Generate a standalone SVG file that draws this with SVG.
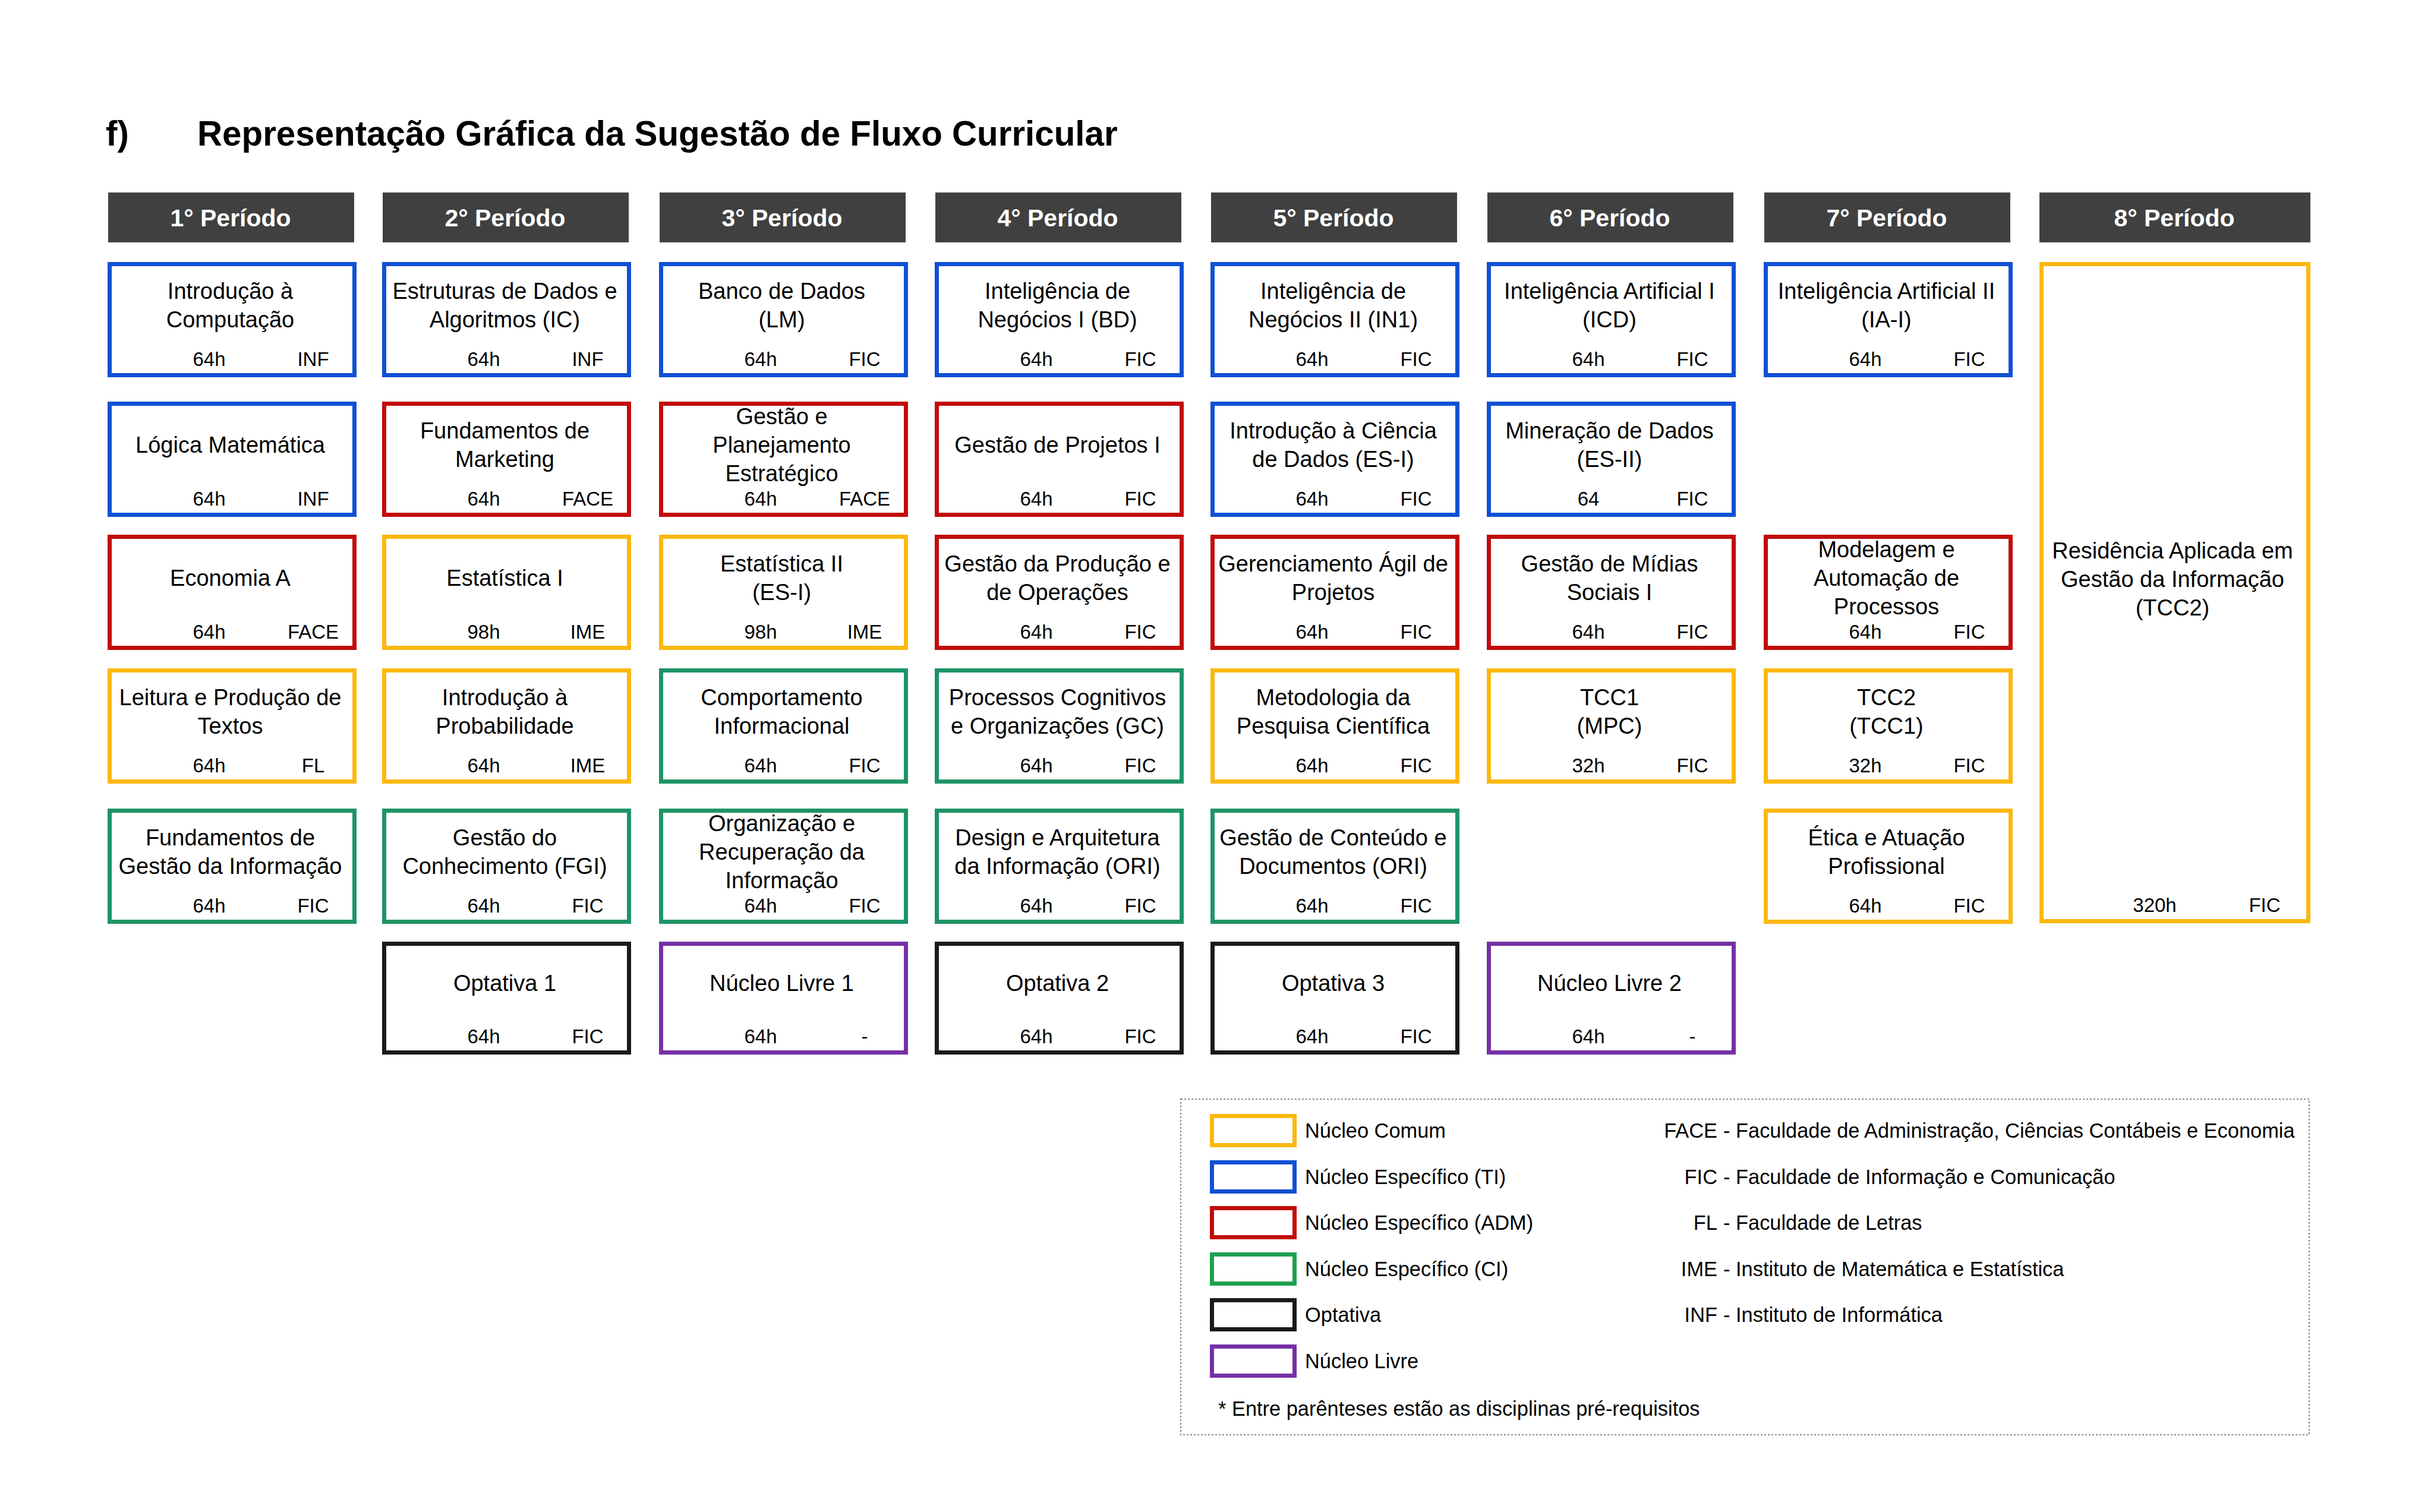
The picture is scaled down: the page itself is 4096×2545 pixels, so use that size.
<svg xmlns="http://www.w3.org/2000/svg" width="4096" height="2545" viewBox="0 0 4096 2545">
<style>
text{font-family:"Liberation Sans",Arial,sans-serif;fill:#000}
.title{font-size:58.3px;font-weight:bold}
.hdr rect{fill:#404040}
.hdr text{font-size:41px;font-weight:bold;fill:#fff;text-anchor:middle}
.node rect{fill:#fff;stroke-width:7}
.node text{text-anchor:middle}
.nm{font-size:38px}
.hr{font-size:33px}
.Y rect{stroke:#FBB80F}
.B rect{stroke:#1050D4}
.R rect{stroke:#C20B0B}
.G rect{stroke:#1E9466}
.K rect{stroke:#1A1A1A}
.P rect{stroke:#7530A5}
.lg{font-size:34.4px}
.sw{fill:#fff;stroke-width:7}
</style>
<rect width="4096" height="2545" fill="#fff"/>
<text class="title" x="178" y="245">f)</text>
<text class="title" x="332" y="245">Representação Gráfica da Sugestão de Fluxo Curricular</text>

<g id="headers">
<g class="hdr" id="h1"><rect x="182" y="324" width="414" height="84"/><text x="388" y="381">1° Período</text></g>
<g class="hdr" id="h2"><rect x="644" y="324" width="414" height="84"/><text x="850" y="381">2° Período</text></g>
<g class="hdr" id="h3"><rect x="1110" y="324" width="414" height="84"/><text x="1316" y="381">3° Período</text></g>
<g class="hdr" id="h4"><rect x="1574" y="324" width="414" height="84"/><text x="1780" y="381">4° Período</text></g>
<g class="hdr" id="h5"><rect x="2038" y="324" width="414" height="84"/><text x="2244" y="381">5° Período</text></g>
<g class="hdr" id="h6"><rect x="2503" y="324" width="414" height="84"/><text x="2709" y="381">6° Período</text></g>
<g class="hdr" id="h7"><rect x="2969" y="324" width="414" height="84"/><text x="3175" y="381">7° Período</text></g>
<g class="hdr" id="h8"><rect x="3432" y="324" width="456" height="84"/><text x="3659" y="381">8° Período</text></g>
</g>

<!-- Column 1 -->
<g class="node B" id="c1r1"><rect x="184.5" y="444.5" width="412" height="187"/><text class="nm" x="387.5" y="503">Introdução à</text><text class="nm" x="387.5" y="551">Computação</text><text class="hr" x="352" y="616">64h</text><text class="hr" x="527" y="616">INF</text></g>
<g class="node B" id="c1r2"><rect x="184.5" y="679.5" width="412" height="187"/><text class="nm" x="387.5" y="762">Lógica Matemática</text><text class="hr" x="352" y="851">64h</text><text class="hr" x="527" y="851">INF</text></g>
<g class="node R" id="c1r3"><rect x="184.5" y="903.5" width="412" height="187"/><text class="nm" x="387.5" y="986">Economia A</text><text class="hr" x="352" y="1075">64h</text><text class="hr" x="527" y="1075">FACE</text></g>
<g class="node Y" id="c1r4"><rect x="184.5" y="1128.5" width="412" height="187"/><text class="nm" x="387.5" y="1187">Leitura e Produção de</text><text class="nm" x="387.5" y="1235">Textos</text><text class="hr" x="352" y="1300">64h</text><text class="hr" x="527" y="1300">FL</text></g>
<g class="node G" id="c1r5"><rect x="184.5" y="1364.5" width="412" height="187"/><text class="nm" x="387.5" y="1423">Fundamentos de</text><text class="nm" x="387.5" y="1471">Gestão da Informação</text><text class="hr" x="352" y="1536">64h</text><text class="hr" x="527" y="1536">FIC</text></g>

<!-- Column 2 -->
<g class="node B" id="c2r1"><rect x="646.5" y="444.5" width="412" height="187"/><text class="nm" x="849.5" y="503">Estruturas de Dados e</text><text class="nm" x="849.5" y="551">Algoritmos (IC)</text><text class="hr" x="814" y="616">64h</text><text class="hr" x="989" y="616">INF</text></g>
<g class="node R" id="c2r2"><rect x="646.5" y="679.5" width="412" height="187"/><text class="nm" x="849.5" y="738">Fundamentos de</text><text class="nm" x="849.5" y="786">Marketing</text><text class="hr" x="814" y="851">64h</text><text class="hr" x="989" y="851">FACE</text></g>
<g class="node Y" id="c2r3"><rect x="646.5" y="903.5" width="412" height="187"/><text class="nm" x="849.5" y="986">Estatística I</text><text class="hr" x="814" y="1075">98h</text><text class="hr" x="989" y="1075">IME</text></g>
<g class="node Y" id="c2r4"><rect x="646.5" y="1128.5" width="412" height="187"/><text class="nm" x="849.5" y="1187">Introdução à</text><text class="nm" x="849.5" y="1235">Probabilidade</text><text class="hr" x="814" y="1300">64h</text><text class="hr" x="989" y="1300">IME</text></g>
<g class="node G" id="c2r5"><rect x="646.5" y="1364.5" width="412" height="187"/><text class="nm" x="849.5" y="1423">Gestão do</text><text class="nm" x="849.5" y="1471">Conhecimento (FGI)</text><text class="hr" x="814" y="1536">64h</text><text class="hr" x="989" y="1536">FIC</text></g>
<g class="node K" id="c2r6"><rect x="646.5" y="1588.5" width="412" height="183"/><text class="nm" x="849.5" y="1668">Optativa 1</text><text class="hr" x="814" y="1756">64h</text><text class="hr" x="989" y="1756">FIC</text></g>

<!-- Column 3 -->
<g class="node B" id="c3r1"><rect x="1112.5" y="444.5" width="412" height="187"/><text class="nm" x="1315.5" y="503">Banco de Dados</text><text class="nm" x="1315.5" y="551">(LM)</text><text class="hr" x="1280" y="616">64h</text><text class="hr" x="1455" y="616">FIC</text></g>
<g class="node R" id="c3r2"><rect x="1112.5" y="679.5" width="412" height="187"/><text class="nm" x="1315.5" y="714">Gestão e</text><text class="nm" x="1315.5" y="762">Planejamento</text><text class="nm" x="1315.5" y="810">Estratégico</text><text class="hr" x="1280" y="851">64h</text><text class="hr" x="1455" y="851">FACE</text></g>
<g class="node Y" id="c3r3"><rect x="1112.5" y="903.5" width="412" height="187"/><text class="nm" x="1315.5" y="962">Estatística II</text><text class="nm" x="1315.5" y="1010">(ES-I)</text><text class="hr" x="1280" y="1075">98h</text><text class="hr" x="1455" y="1075">IME</text></g>
<g class="node G" id="c3r4"><rect x="1112.5" y="1128.5" width="412" height="187"/><text class="nm" x="1315.5" y="1187">Comportamento</text><text class="nm" x="1315.5" y="1235">Informacional</text><text class="hr" x="1280" y="1300">64h</text><text class="hr" x="1455" y="1300">FIC</text></g>
<g class="node G" id="c3r5"><rect x="1112.5" y="1364.5" width="412" height="187"/><text class="nm" x="1315.5" y="1399">Organização e</text><text class="nm" x="1315.5" y="1447">Recuperação da</text><text class="nm" x="1315.5" y="1495">Informação</text><text class="hr" x="1280" y="1536">64h</text><text class="hr" x="1455" y="1536">FIC</text></g>
<g class="node P" id="c3r6"><rect x="1112.5" y="1588.5" width="412" height="183"/><text class="nm" x="1315.5" y="1668">Núcleo Livre 1</text><text class="hr" x="1280" y="1756">64h</text><text class="hr" x="1455" y="1756">-</text></g>

<!-- Column 4 -->
<g class="node B" id="c4r1"><rect x="1576.5" y="444.5" width="412" height="187"/><text class="nm" x="1779.5" y="503">Inteligência de</text><text class="nm" x="1779.5" y="551">Negócios I (BD)</text><text class="hr" x="1744" y="616">64h</text><text class="hr" x="1919" y="616">FIC</text></g>
<g class="node R" id="c4r2"><rect x="1576.5" y="679.5" width="412" height="187"/><text class="nm" x="1779.5" y="762">Gestão de Projetos I</text><text class="hr" x="1744" y="851">64h</text><text class="hr" x="1919" y="851">FIC</text></g>
<g class="node R" id="c4r3"><rect x="1576.5" y="903.5" width="412" height="187"/><text class="nm" x="1779.5" y="962">Gestão da Produção e</text><text class="nm" x="1779.5" y="1010">de Operações</text><text class="hr" x="1744" y="1075">64h</text><text class="hr" x="1919" y="1075">FIC</text></g>
<g class="node G" id="c4r4"><rect x="1576.5" y="1128.5" width="412" height="187"/><text class="nm" x="1779.5" y="1187">Processos Cognitivos</text><text class="nm" x="1779.5" y="1235">e Organizações (GC)</text><text class="hr" x="1744" y="1300">64h</text><text class="hr" x="1919" y="1300">FIC</text></g>
<g class="node G" id="c4r5"><rect x="1576.5" y="1364.5" width="412" height="187"/><text class="nm" x="1779.5" y="1423">Design e Arquitetura</text><text class="nm" x="1779.5" y="1471">da Informação (ORI)</text><text class="hr" x="1744" y="1536">64h</text><text class="hr" x="1919" y="1536">FIC</text></g>
<g class="node K" id="c4r6"><rect x="1576.5" y="1588.5" width="412" height="183"/><text class="nm" x="1779.5" y="1668">Optativa 2</text><text class="hr" x="1744" y="1756">64h</text><text class="hr" x="1919" y="1756">FIC</text></g>

<!-- Column 5 -->
<g class="node B" id="c5r1"><rect x="2040.5" y="444.5" width="412" height="187"/><text class="nm" x="2243.5" y="503">Inteligência de</text><text class="nm" x="2243.5" y="551">Negócios II (IN1)</text><text class="hr" x="2208" y="616">64h</text><text class="hr" x="2383" y="616">FIC</text></g>
<g class="node B" id="c5r2"><rect x="2040.5" y="679.5" width="412" height="187"/><text class="nm" x="2243.5" y="738">Introdução à Ciência</text><text class="nm" x="2243.5" y="786">de Dados (ES-I)</text><text class="hr" x="2208" y="851">64h</text><text class="hr" x="2383" y="851">FIC</text></g>
<g class="node R" id="c5r3"><rect x="2040.5" y="903.5" width="412" height="187"/><text class="nm" x="2243.5" y="962">Gerenciamento Ágil de</text><text class="nm" x="2243.5" y="1010">Projetos</text><text class="hr" x="2208" y="1075">64h</text><text class="hr" x="2383" y="1075">FIC</text></g>
<g class="node Y" id="c5r4"><rect x="2040.5" y="1128.5" width="412" height="187"/><text class="nm" x="2243.5" y="1187">Metodologia da</text><text class="nm" x="2243.5" y="1235">Pesquisa Científica</text><text class="hr" x="2208" y="1300">64h</text><text class="hr" x="2383" y="1300">FIC</text></g>
<g class="node G" id="c5r5"><rect x="2040.5" y="1364.5" width="412" height="187"/><text class="nm" x="2243.5" y="1423">Gestão de Conteúdo e</text><text class="nm" x="2243.5" y="1471">Documentos (ORI)</text><text class="hr" x="2208" y="1536">64h</text><text class="hr" x="2383" y="1536">FIC</text></g>
<g class="node K" id="c5r6"><rect x="2040.5" y="1588.5" width="412" height="183"/><text class="nm" x="2243.5" y="1668">Optativa 3</text><text class="hr" x="2208" y="1756">64h</text><text class="hr" x="2383" y="1756">FIC</text></g>

<!-- Column 6 -->
<g class="node B" id="c6r1"><rect x="2505.5" y="444.5" width="412" height="187"/><text class="nm" x="2708.5" y="503">Inteligência Artificial I</text><text class="nm" x="2708.5" y="551">(ICD)</text><text class="hr" x="2673" y="616">64h</text><text class="hr" x="2848" y="616">FIC</text></g>
<g class="node B" id="c6r2"><rect x="2505.5" y="679.5" width="412" height="187"/><text class="nm" x="2708.5" y="738">Mineração de Dados</text><text class="nm" x="2708.5" y="786">(ES-II)</text><text class="hr" x="2673" y="851">64</text><text class="hr" x="2848" y="851">FIC</text></g>
<g class="node R" id="c6r3"><rect x="2505.5" y="903.5" width="412" height="187"/><text class="nm" x="2708.5" y="962">Gestão de Mídias</text><text class="nm" x="2708.5" y="1010">Sociais I</text><text class="hr" x="2673" y="1075">64h</text><text class="hr" x="2848" y="1075">FIC</text></g>
<g class="node Y" id="c6r4"><rect x="2505.5" y="1128.5" width="412" height="187"/><text class="nm" x="2708.5" y="1187">TCC1</text><text class="nm" x="2708.5" y="1235">(MPC)</text><text class="hr" x="2673" y="1300">32h</text><text class="hr" x="2848" y="1300">FIC</text></g>
<g class="node P" id="c6r6"><rect x="2505.5" y="1588.5" width="412" height="183"/><text class="nm" x="2708.5" y="1668">Núcleo Livre 2</text><text class="hr" x="2673" y="1756">64h</text><text class="hr" x="2848" y="1756">-</text></g>

<!-- Column 7 -->
<g class="node B" id="c7r1"><rect x="2971.5" y="444.5" width="412" height="187"/><text class="nm" x="3174.5" y="503">Inteligência Artificial II</text><text class="nm" x="3174.5" y="551">(IA-I)</text><text class="hr" x="3139" y="616">64h</text><text class="hr" x="3314" y="616">FIC</text></g>
<g class="node R" id="c7r3"><rect x="2971.5" y="903.5" width="412" height="187"/><text class="nm" x="3174.5" y="938">Modelagem e</text><text class="nm" x="3174.5" y="986">Automação de</text><text class="nm" x="3174.5" y="1034">Processos</text><text class="hr" x="3139" y="1075">64h</text><text class="hr" x="3314" y="1075">FIC</text></g>
<g class="node Y" id="c7r4"><rect x="2971.5" y="1128.5" width="412" height="187"/><text class="nm" x="3174.5" y="1187">TCC2</text><text class="nm" x="3174.5" y="1235">(TCC1)</text><text class="hr" x="3139" y="1300">32h</text><text class="hr" x="3314" y="1300">FIC</text></g>
<g class="node Y" id="c7r5"><rect x="2971.5" y="1364.5" width="412" height="187"/><text class="nm" x="3174.5" y="1423">Ética e Atuação</text><text class="nm" x="3174.5" y="1471">Profissional</text><text class="hr" x="3139" y="1536">64h</text><text class="hr" x="3314" y="1536">FIC</text></g>

<!-- Column 8 -->
<g class="node Y" id="c8r1"><rect x="3435.5" y="444.5" width="449" height="1106"/><text class="nm" x="3656" y="940">Residência Aplicada em</text><text class="nm" x="3656" y="988">Gestão da Informação</text><text class="nm" x="3656" y="1036">(TCC2)</text><text class="hr" x="3626" y="1535">320h</text><text class="hr" x="3811" y="1535">FIC</text></g>

<!-- Legend -->
<g id="legend">
<rect x="1987" y="1850" width="1899" height="565" fill="none" stroke="#8a8a8a" stroke-width="2" stroke-dasharray="3 3"/>
<rect class="sw" x="2039.5" y="1878.5" width="139" height="49" stroke="#FBB80F"/>
<rect class="sw" x="2039.5" y="1956.5" width="139" height="49" stroke="#1050D4"/>
<rect class="sw" x="2039.5" y="2033.5" width="139" height="49" stroke="#C20B0B"/>
<rect class="sw" x="2039.5" y="2111.5" width="139" height="49" stroke="#1FA050"/>
<rect class="sw" x="2039.5" y="2188.5" width="139" height="49" stroke="#1A1A1A"/>
<rect class="sw" x="2039.5" y="2266.5" width="139" height="49" stroke="#7530A5"/>
<text class="lg" x="2196" y="1915">Núcleo Comum</text>
<text class="lg" x="2196" y="1993">Núcleo Específico (TI)</text>
<text class="lg" x="2196" y="2070">Núcleo Específico (ADM)</text>
<text class="lg" x="2196" y="2148">Núcleo Específico (CI)</text>
<text class="lg" x="2196" y="2225">Optativa</text>
<text class="lg" x="2196" y="2303">Núcleo Livre</text>
<text class="lg" x="2890" y="1915" text-anchor="end">FACE</text>
<text class="lg" x="2900" y="1915">- Faculdade de Administração, Ciências Contábeis e Economia</text>
<text class="lg" x="2890" y="1993" text-anchor="end">FIC</text>
<text class="lg" x="2900" y="1993">- Faculdade de Informação e Comunicação</text>
<text class="lg" x="2890" y="2070" text-anchor="end">FL</text>
<text class="lg" x="2900" y="2070">- Faculdade de Letras</text>
<text class="lg" x="2890" y="2148" text-anchor="end">IME</text>
<text class="lg" x="2900" y="2148">- Instituto de Matemática e Estatística</text>
<text class="lg" x="2890" y="2225" text-anchor="end">INF</text>
<text class="lg" x="2900" y="2225">- Instituto de Informática</text>
<text class="lg" x="2050" y="2383">* Entre parênteses estão as disciplinas pré-requisitos</text>
</g>
</svg>
